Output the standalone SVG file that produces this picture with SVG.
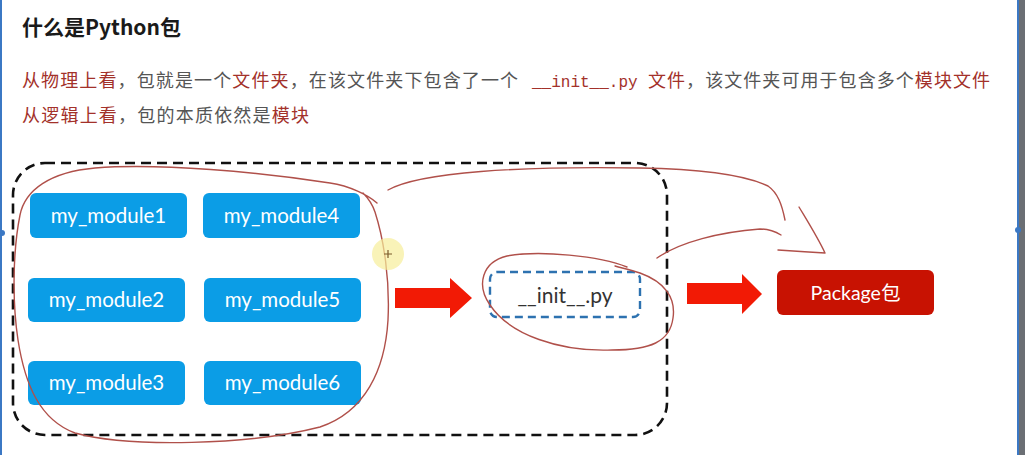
<svg xmlns="http://www.w3.org/2000/svg" width="1025" height="455" viewBox="0 0 1025 455">
<style>
.cn{font-family:"Noto Sans CJK SC","Noto Sans",sans-serif;font-size:18px}
.r{fill:#a3312a}
.g{fill:#555555}
.mono{font-family:"Liberation Mono",monospace;font-size:16px}
.mod rect{fill:#0b9de6}
.mod text{fill:#ffffff;font-family:Lato,"Open Sans",sans-serif;font-size:20.5px;text-anchor:middle}
.ink{fill:none;stroke:#b0504a;stroke-width:1.4;stroke-linecap:round;stroke-linejoin:round}
.bigarrow{fill:#f21a05}
</style>
<rect x="0" y="0" width="1025" height="455" fill="#ffffff"/>
<!-- slide edges -->
<rect x="0" y="0" width="2" height="455" fill="#3b78c4"/>
<circle cx="2" cy="233" r="3" fill="#3b78c4"/>
<rect x="1019" y="0" width="6" height="455" fill="#6b6f74"/>
<rect x="1017" y="0" width="2" height="455" fill="#3b78c4"/>
<circle cx="1018" cy="230" r="3" fill="#3b78c4"/>

<!-- title and description -->
<text x="22" y="35" font-family="'Noto Sans CJK SC','Noto Sans',sans-serif" font-weight="bold" font-size="21" fill="#1a1a1a">什么是Python包</text>
<text class="cn" x="22" y="87" textLength="496" lengthAdjust="spacing"><tspan class="r">从物理上看</tspan><tspan class="g">，包就是一个</tspan><tspan class="r">文件夹</tspan><tspan class="g">，在该文件夹下包含了一个</tspan></text>
<text class="mono r" x="532" y="87">__init__.py</text>
<text class="cn" x="648" y="87" textLength="342" lengthAdjust="spacing"><tspan class="r">文件</tspan><tspan class="g">，该文件夹可用于包含多个</tspan><tspan class="r">模块文件</tspan></text>
<text class="cn" x="22" y="122" textLength="287" lengthAdjust="spacing"><tspan class="r">从逻辑上看</tspan><tspan class="g">，包的本质依然是</tspan><tspan class="r">模块</tspan></text>

<!-- package folder outline -->
<g id="folder">
<rect x="13" y="163" width="654" height="272" rx="32" ry="32" fill="none" stroke="#111111" stroke-width="2.6" stroke-dasharray="10 6"/>
</g>

<g id="m1" class="mod"><rect x="30" y="193" width="157" height="45" rx="6"/><text x="108.5" y="223">my_module1</text></g>
<g id="m4" class="mod"><rect x="203" y="193" width="157" height="45" rx="6"/><text x="281.5" y="223">my_module4</text></g>
<g id="m2" class="mod"><rect x="28" y="278" width="157" height="44" rx="6"/><text x="106.5" y="307">my_module2</text></g>
<g id="m5" class="mod"><rect x="204" y="278" width="157" height="44" rx="6"/><text x="282.5" y="307">my_module5</text></g>
<g id="m3" class="mod"><rect x="28" y="361" width="157" height="44" rx="6"/><text x="106.5" y="390">my_module3</text></g>
<g id="m6" class="mod"><rect x="204" y="361" width="157" height="44" rx="6"/><text x="282.5" y="390">my_module6</text></g>

<g id="init">
<rect x="490" y="272" width="150" height="45" rx="7" fill="none" stroke="#2d72b0" stroke-width="2.4" stroke-dasharray="8 5"/>
<text x="565" y="303" font-family="Lato,'Open Sans',sans-serif" font-size="21" fill="#333333" text-anchor="middle">__init__.py</text>
</g>

<g id="package">
<rect x="777" y="270" width="157" height="45" rx="6" fill="#c81202"/>
<text x="855.5" y="300" font-family="Lato,'Noto Sans CJK SC',sans-serif" font-size="19.5" fill="#ffffff" text-anchor="middle">Package包</text>
</g>

<g id="connectors">
<polygon class="bigarrow" points="395,288 450,288 450,278 472,298 450,318 450,308 395,308"/>
<polygon class="bigarrow" points="687,283 742,283 742,274 762,294 742,314 742,304 687,304"/>
</g>

<!-- hand-drawn annotations -->
<g id="annotations">
<path class="ink" d="M377 203 C 368 195, 350 186, 330 183 C 260 172, 160 163, 95 168 C 50 172, 25 190, 20 215 C 13 250, 12 300, 18 340 C 25 385, 40 420, 75 433 C 130 448, 250 445, 320 427 C 365 412, 385 370, 388 320 C 390 280, 384 240, 375 212 C 372 203, 368 198, 363 193"/>
<path class="ink" d="M388 190 C 420 172, 520 166, 640 168 C 700 169, 745 175, 768 186 C 778 193, 782 205, 785 220"/>
<path class="ink" d="M657 258 C 680 242, 720 232, 760 229 C 770 229, 776 232, 781 235"/>
<path class="ink" d="M799 207 C 808 222, 818 238, 825 253 C 810 252, 792 251, 778 250"/>
<path class="ink" d="M627 267 C 600 256, 540 250, 507 256 C 482 262, 476 285, 490 305 C 510 335, 560 352, 612 350 C 650 350, 670 342, 673 318 C 676 298, 665 282, 640 273 C 630 270, 622 268, 615 266"/>
</g>

<!-- cursor highlight -->
<g id="cursor">
<circle cx="388" cy="254" r="16" fill="#f7ee9a" opacity="0.7"/>
<path d="M384 254 H392 M388 250 V258" stroke="#7a5a2a" stroke-width="1.2"/>
</g>
</svg>
